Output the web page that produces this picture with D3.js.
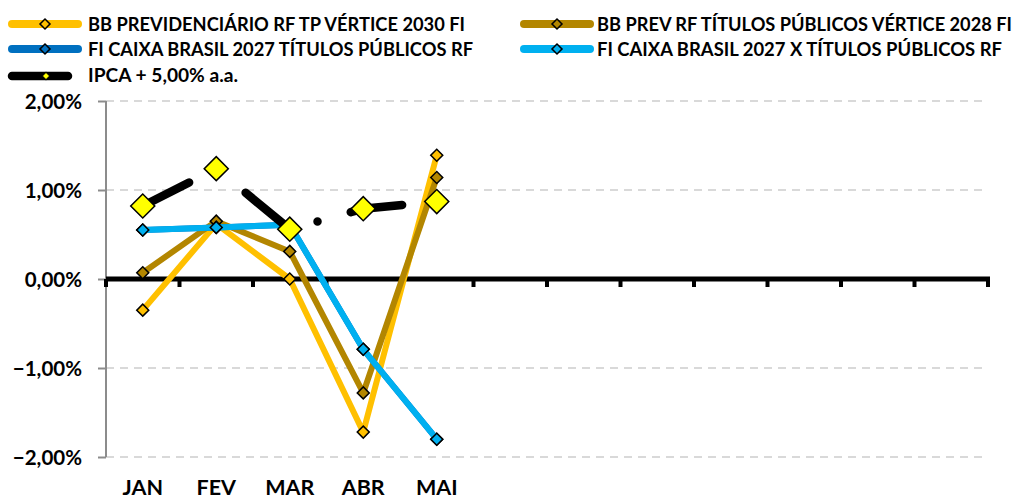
<!DOCTYPE html>
<html>
<head>
<meta charset="utf-8">
<script src="https://cdn.jsdelivr.net/npm/d3@7"></script>
<style>
  body { margin: 0; background: #fff; }
  svg { display: block; }
  text { font-family: Lato, "Open Sans", sans-serif; font-weight: bold; fill: #000; }
</style>
</head>
<body>
<div id="chart"></div>
<script>
// categories (12 month slots, only the first five have labels / data)
const months = ['JAN', 'FEV', 'MAR', 'ABR', 'MAI', 'JUN', 'JUL', 'AGO', 'SET', 'OUT', 'NOV', 'DEZ'];
const monthLabels = ['JAN', 'FEV', 'MAR', 'ABR', 'MAI', '', '', '', '', '', '', ''];

// monthly returns, %
const bbVertice2030 = [-0.35, 0.62, 0.00, -1.72, 1.39];
const bbVertice2028 = [0.07, 0.65, 0.31, -1.28, 1.14];
const caixa2027 = [0.55, 0.58, 0.61, -0.79, -1.80];
const caixa2027X = [0.55, 0.58, 0.61, -0.79, -1.80];
const ipca5 = [0.82, 1.24, 0.56, 0.79, 0.87];

const yTicks = [-2, -1, 0, 1, 2];

const series = [
    { name: 'BB PREVIDENCIÁRIO RF TP VÉRTICE 2030 FI', values: bbVertice2030, color: '#FFC000' },
    { name: 'BB PREV RF TÍTULOS PÚBLICOS VÉRTICE 2028 FI', values: bbVertice2028, color: '#B38600' },
    { name: 'FI CAIXA BRASIL 2027 TÍTULOS PÚBLICOS RF', values: caixa2027, color: '#0070C0' },
    { name: 'FI CAIXA BRASIL 2027 X TÍTULOS PÚBLICOS RF', values: caixa2027X, color: '#00B0F0' }
];
const ipcaName = 'IPCA + 5,00% a.a.';

const width = 1020;
const height = 501;
const plot = { left: 106, right: 988, top: 101, bottom: 457 };

const svg = d3.select('#chart')
    .append('svg')
    .attr('width', width)
    .attr('height', height);

const x = d3.scaleBand()
    .domain(months)
    .range([plot.left, plot.right]);

const y = d3.scaleLinear()
    .domain([-2, 2])
    .range([plot.bottom, plot.top]);

const cx = i => x(months[i]) + x.bandwidth() / 2;

// gridlines
svg.append('g')
    .selectAll('line')
    .data(yTicks.filter(d => d !== 0))
    .enter()
    .append('line')
    .attr('x1', plot.left)
    .attr('x2', plot.right - 6)
    .attr('y1', d => y(d))
    .attr('y2', d => y(d))
    .attr('stroke', '#D9D9D9')
    .attr('stroke-width', 2)
    .attr('stroke-dasharray', '8,6');

// y axis
const yAxis = svg.append('g')
    .attr('transform', `translate(${plot.left},0)`)
    .call(d3.axisLeft(y)
        .tickValues(yTicks)
        .tickSize(8)
        .tickPadding(16)
        .tickFormat(d => d3.format('.2f')(d).replace('.', ',') + '%'));

yAxis.select('.domain')
    .attr('stroke', '#8C8C8C')
    .attr('stroke-width', 2)
    .attr('d', `M0,${plot.top}V${plot.bottom}`);
yAxis.selectAll('.tick line')
    .attr('stroke', '#8C8C8C')
    .attr('stroke-width', 2);
yAxis.selectAll('.tick text')
    .style('font-size', '20.5px')
    .attr('dy', '0.36em');

// x axis along zero
const xAxis = svg.append('g')
    .attr('transform', `translate(0,${y(0)})`);

xAxis.append('line')
    .attr('x1', plot.left)
    .attr('x2', plot.right + 2)
    .attr('stroke', '#000')
    .attr('stroke-width', 5);

xAxis.selectAll('.tk')
    .data(months.map(m => x(m)).concat([plot.right]))
    .enter()
    .append('line')
    .attr('class', 'tk')
    .attr('x1', d => d)
    .attr('x2', d => d)
    .attr('y1', 0)
    .attr('y2', 8)
    .attr('stroke', '#000')
    .attr('stroke-width', 4);

svg.append('g')
    .selectAll('text')
    .data(monthLabels)
    .enter()
    .append('text')
    .attr('x', (d, i) => cx(i))
    .attr('y', 495)
    .attr('text-anchor', 'middle')
    .style('font-size', '21.5px')
    .text(d => d);

// series
const line = d3.line()
    .x((d, i) => cx(i))
    .y(d => y(d));

const diamond = size => d3.symbol().type(d3.symbolSquare).size(size)();

series.forEach(s => {
    const g = svg.append('g');
    g.append('path')
        .datum(s.values)
        .attr('d', line)
        .attr('fill', 'none')
        .attr('stroke', s.color)
        .attr('stroke-width', 6)
        .attr('stroke-linejoin', 'round');
    g.selectAll('path.mk')
        .data(s.values)
        .enter()
        .append('path')
        .attr('class', 'mk')
        .attr('d', diamond(72))
        .attr('transform', (d, i) => `translate(${cx(i)},${y(d)}) rotate(45)`)
        .attr('fill', s.color)
        .attr('stroke', '#000')
        .attr('stroke-width', 1.5);
});

// IPCA + 5% : long dash dot black line with big yellow diamonds
const ipcaDash = '52,34,0,34.5';
svg.append('path')
    .datum(ipca5)
    .attr('d', line)
    .attr('fill', 'none')
    .attr('stroke', '#000')
    .attr('stroke-width', 8.5)
    .attr('stroke-linecap', 'round')
    .attr('stroke-dasharray', ipcaDash);

svg.append('g')
    .selectAll('path')
    .data(ipca5)
    .enter()
    .append('path')
    .attr('d', diamond(290))
    .attr('transform', (d, i) => `translate(${cx(i)},${y(d)}) rotate(45)`)
    .attr('fill', '#FFFF00')
    .attr('stroke', '#000')
    .attr('stroke-width', 1.5);

// legend (text widths fitted to the original Calibri layout)
const legendItems = [
    { s: series[0], lx: 8, tx: 88, cy: 24, w: 377 },
    { s: series[1], lx: 520, tx: 597, cy: 24, w: 415 },
    { s: series[2], lx: 8, tx: 88, cy: 49, w: 385 },
    { s: series[3], lx: 520, tx: 597, cy: 49, w: 405 }
];

const legend = svg.append('g');

legendItems.forEach(it => {
    legend.append('line')
        .attr('x1', it.lx + 4)
        .attr('x2', it.lx + 70)
        .attr('y1', it.cy)
        .attr('y2', it.cy)
        .attr('stroke', it.s.color)
        .attr('stroke-width', 8)
        .attr('stroke-linecap', 'round');
    legend.append('path')
        .attr('d', diamond(50))
        .attr('transform', `translate(${it.lx + 37},${it.cy}) rotate(45)`)
        .attr('fill', it.s.color)
        .attr('stroke', '#000')
        .attr('stroke-width', 1.5);
    legend.append('text')
        .attr('x', it.tx)
        .attr('y', it.cy + 7)
        .attr('textLength', it.w)
        .attr('lengthAdjust', 'spacingAndGlyphs')
        .style('font-size', '18px')
        .text(it.s.name);
});

legend.append('line')
    .attr('x1', 12)
    .attr('x2', 68)
    .attr('y1', 76)
    .attr('y2', 76)
    .attr('stroke', '#000')
    .attr('stroke-width', 8.5)
    .attr('stroke-linecap', 'round');
legend.append('path')
    .attr('d', diamond(28))
    .attr('transform', 'translate(46,76) rotate(45)')
    .attr('fill', '#FFFF00')
    .attr('stroke', '#000')
    .attr('stroke-width', 1);
legend.append('text')
    .attr('x', 88)
    .attr('y', 82)
    .attr('textLength', 150)
    .attr('lengthAdjust', 'spacingAndGlyphs')
    .style('font-size', '18px')
    .text(ipcaName);
</script>
</body>
</html>
